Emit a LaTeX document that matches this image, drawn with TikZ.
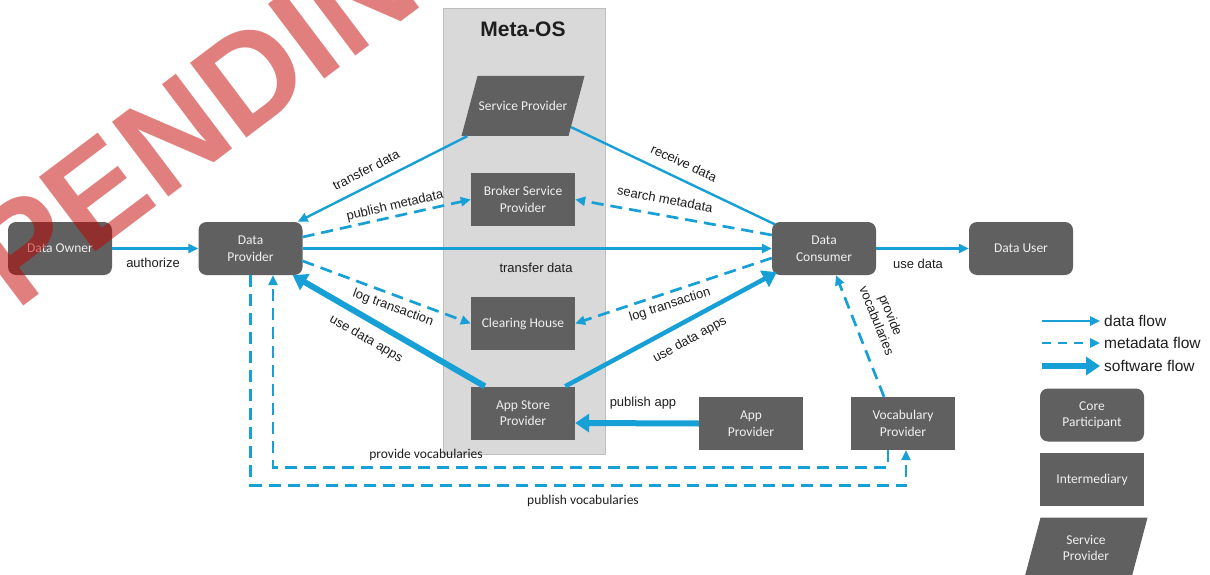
\documentclass[tikz,border=0pt]{standalone}
\usepackage{fontspec}
\setmainfont{Liberation Sans}
\newfontfamily\boxfont{Carlito}
\usetikzlibrary{arrows.meta,calc}

\definecolor{flowblue}{RGB}{22,160,214}
\definecolor{boxgray}{RGB}{96,96,96}
\definecolor{boxtext}{RGB}{240,240,240}
\definecolor{metafill}{RGB}{217,217,217}
\definecolor{metaline}{RGB}{190,190,190}
\definecolor{labeltext}{RGB}{30,30,30}
\definecolor{stampred}{RGB}{195,0,0}

\begin{document}
\begin{tikzpicture}[x=1pt,y=-1pt,
  boxlabel/.style={text=boxtext, font=\boxfont\fontsize{13.5}{16.5}\selectfont, align=center, inner sep=1pt},
  core/.style={boxlabel, fill=boxgray, rounded corners=8pt, minimum width=104pt, minimum height=53pt, inner sep=2pt},
  inter/.style={core, rounded corners=0pt},
  svc/.style={fill=boxgray, minimum width=107pt, minimum height=60pt, inner sep=0pt, xslant=0.267},
  plain/.style={draw=flowblue, line width=2.4pt},
  flow/.style={plain, -{Triangle[length=10pt,width=9pt]}},
  meta/.style={draw=flowblue, line width=2.7pt, dash pattern=on 12pt off 7pt,
    -{Triangle[length=10pt,width=9pt]}},
  soft/.style={draw=flowblue, line width=6pt, -{Triangle[length=14pt,width=18pt]}},
  lbl/.style={text=labeltext, font=\fontsize{13}{15}\selectfont, inner sep=1pt},
  vlbl/.style={text=labeltext, font=\boxfont\fontsize{13.5}{15}\selectfont, inner sep=1pt},
  key/.style={text=labeltext, font=\fontsize{15.5}{17}\selectfont, anchor=west, inner sep=0pt},
]
\useasboundingbox (0,0) rectangle (1210,575);
\clip (0,0) rectangle (1210,575);

% Meta-OS container
\node[fill=metafill, draw=metaline, line width=1pt, minimum width=162pt, minimum height=445pt,
  inner sep=0pt] (metaos) at (524,231.5) {};
\node[text=labeltext, font=\bfseries\fontsize{21}{24}\selectfont] (metatitle) at (523,29) {Meta-OS};

% participants
\node[svc] (sp) at (523,106) {};
\node[boxlabel] (spt) at (sp.center) {Service Provider};
\node[inter] (broker) at (523,199.5) {Broker Service\\Provider};
\node[inter] (clearing) at (523,323.5) {Clearing House};
\node[inter] (appstore) at (523,413) {App Store\\Provider};
\node[core] (owner) at (60,248.5) {Data Owner};
\node[core] (provider) at (250.5,248.5) {Data\\Provider};
\node[core] (consumer) at (824,248.5) {Data\\Consumer};
\node[core] (user) at (1021,248.5) {Data User};
\node[inter] (appprov) at (751,423.5) {App\\Provider};
\node[inter] (vocab) at (903,423.5) {Vocabulary\\Provider};

% flows
\draw[flow] (owner.east) -- (provider.west);
\node[lbl] (l-auth) at (153,263) {authorize};

\draw[flow] ([xshift=6pt]sp.south west) -- ([xshift=-5pt]provider.north east);
\node[lbl, rotate=27] (l-td1) at (366,170) {transfer data};

\draw[meta] ([yshift=11.5pt]provider.east) -- (broker.west);
\node[lbl, rotate=13] (l-pm) at (395,206) {publish metadata};

\draw[flow] (provider.east) -- (consumer.west);
\node[lbl] (l-td2) at (536,268) {transfer data};

\draw[meta] ([yshift=-12.5pt]provider.east) -- (clearing.west);
\node[lbl, rotate=-20] (l-lt1) at (393,308) {log transaction};

\draw[soft] ([xshift=14pt]appstore.north west) -- ([xshift=-10pt]provider.south east);
\node[lbl, rotate=-30] (l-ua1) at (366,339) {use data apps};

\draw[plain] ($(sp.east)!0.7!(sp.south east)$) -- ([xshift=3pt,yshift=-2.5pt]consumer.north west);
\node[lbl, rotate=-25] (l-rd) at (684,163) {receive data};

\draw[meta] ([yshift=13.5pt]consumer.west) -- (broker.east);
\node[lbl, rotate=-10.6] (l-sm) at (665,199) {search metadata};

\draw[meta] ([yshift=-9.5pt]consumer.west) -- (clearing.east);
\node[lbl, rotate=18] (l-lt2) at (670,305) {log transaction};

\draw[soft, line width=4.5pt] ([xshift=-10pt]appstore.north east) -- ([xshift=5pt,yshift=3pt]consumer.south west);
\node[lbl, rotate=29] (l-ua2) at (690,340) {use data apps};

\draw[soft] (appprov.west) -- ([yshift=-10pt]appstore.east);
\node[lbl] (l-pa) at (643,403) {publish app};

\draw[flow] (consumer.east) -- (user.west);
\node[lbl] (l-ud) at (918,264) {use data};

\draw[meta] ([xshift=-19pt]vocab.north) -- ([xshift=12pt]consumer.south);
\node[lbl, rotate=-68, align=center] (l-pv1) at (884,318) {provide\\vocabularies};

\draw[meta] ([xshift=-15pt]vocab.south) -- ++(0,17) -| ([xshift=22.5pt]provider.south);
\node[vlbl] (l-pv2) at (426,455) {provide vocabularies};

\draw[meta] (provider.south) -- ++(0,210) -| ([xshift=3pt]vocab.south);
\node[vlbl] (l-pubv) at (583,501) {publish vocabularies};

% key
\coordinate (k1a) at (1042,321); \coordinate (k1b) at (1100,321);
\coordinate (k2a) at (1042,343); \coordinate (k2b) at (1100,343);
\coordinate (k3a) at (1042,366); \coordinate (k3b) at (1100,366);
\draw[flow] (k1a) -- (k1b);
\draw[meta, dash pattern=on 9pt off 7pt] (k2a) -- (k2b);
\draw[soft] (k3a) -- (k3b);
\node[key] (k1t) at (1104,321) {data flow};
\node[key] (k2t) at (1104,343) {metadata flow};
\node[key] (k3t) at (1104,366) {software flow};
\node[core] (kcore) at (1092,415) {Core\\Participant};
\node[inter] (kinter) at (1092,479.5) {Intermediary};
\node[svc] (ksvc) at (1086,547.7) {};
\node[boxlabel] (ksvct) at (ksvc.center) {Service\\Provider};

% stamp
\node[anchor=base west, rotate=37, text=stampred, opacity=0.5,
  font=\bfseries\fontsize{136}{136}\selectfont, inner sep=0pt] (stamp) at (16,312) {PENDING};
\end{tikzpicture}
\end{document}
